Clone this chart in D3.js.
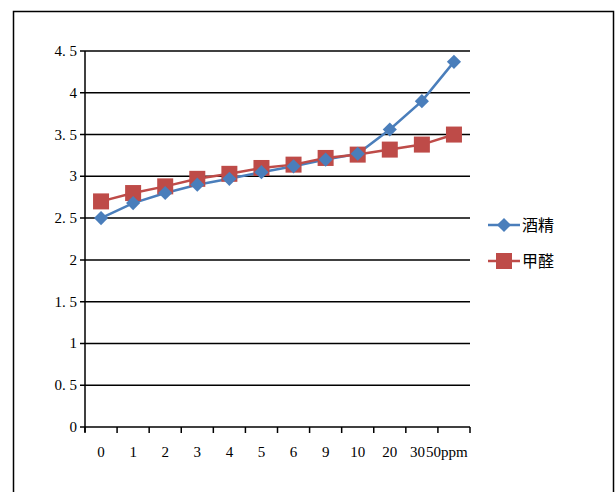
<!DOCTYPE html>
<html><head><meta charset="utf-8">
<script src="https://cdn.jsdelivr.net/npm/d3@7"></script>
<style>body{margin:0;background:#fff}</style>
</head><body>
<script>
var categories = ["0","1","2","3","4","5","6","9","10","20","30","50ppm"];
var alcohol = [2.5,2.68,2.8,2.9,2.97,3.05,3.12,3.2,3.27,3.56,3.9,4.37];
var formaldehyde = [2.7,2.8,2.88,2.97,3.03,3.1,3.14,3.22,3.26,3.32,3.38,3.5];
var yTicks = [0,0.5,1,1.5,2,2.5,3,3.5,4,4.5];

var svg = d3.select("body").append("svg").attr("width",616).attr("height",492);
svg.append("rect").attr("x",13.5).attr("y",11.5).attr("width",600).attr("height",490)
  .attr("fill","#fff").attr("stroke","#000").attr("stroke-width",1.5);

var x = d3.scaleBand().domain(categories).range([85,470]);
var y = d3.scaleLinear().domain([0,4.5]).range([427,51]);
var font = "Liberation Serif";

yTicks.forEach(function(t){
  svg.append("line").attr("x1",80).attr("x2",470).attr("y1",y(t)).attr("y2",y(t))
    .attr("stroke","#000").attr("stroke-width",1.5);
  svg.append("text").attr("x",77).attr("y",y(t)+5).attr("text-anchor","end")
    .attr("font-family",font).attr("font-size",15).text(String(t).replace(".",". "));
});
svg.append("line").attr("x1",85).attr("x2",85).attr("y1",51).attr("y2",432).attr("stroke","#000").attr("stroke-width",1.5);
var edges = categories.map(function(c){return x(c);}).concat([470]);
edges.forEach(function(e){
  svg.append("line").attr("x1",e).attr("x2",e).attr("y1",427).attr("y2",433).attr("stroke","#000").attr("stroke-width",1.5);
});
categories.forEach(function(c,i){
  var cx = x(c)+x.bandwidth()/2;
  var t = svg.append("text").attr("y",457).attr("font-family",font).attr("font-size",15).text(c);
  if (i==10) t.attr("x",cx+3).attr("text-anchor","end");
  else if (i==11) t.attr("x",cx-28).attr("text-anchor","start");
  else t.attr("x",cx).attr("text-anchor","middle");
});

var line = d3.line().x(function(d,i){return x(categories[i])+x.bandwidth()/2;}).y(function(d){return y(d);});
svg.append("path").datum(alcohol).attr("d",line).attr("fill","none").attr("stroke","#4a7ebb").attr("stroke-width",2.5);
svg.append("path").datum(formaldehyde).attr("d",line).attr("fill","none").attr("stroke","#be4b48").attr("stroke-width",2.5);
svg.selectAll(".sq").data(formaldehyde).enter().append("rect")
  .attr("x",function(d,i){return x(categories[i])+x.bandwidth()/2-8;}).attr("y",function(d){return y(d)-8;})
  .attr("width",16).attr("height",16).attr("fill","#be4b48");
function dia(g,cx,cy){
  g.append("rect").attr("x",-5).attr("y",-5).attr("width",10).attr("height",10).attr("fill","#4a7ebb")
   .attr("transform","translate("+cx+","+cy+") rotate(45)");
}
alcohol.forEach(function(d,i){ dia(svg, x(categories[i])+x.bandwidth()/2, y(d)); });

// legend
svg.append("line").attr("x1",488).attr("x2",520).attr("y1",225).attr("y2",225).attr("stroke","#4a7ebb").attr("stroke-width",2.5);
dia(svg,504,225);
svg.append("text").attr("x",522).attr("y",231).attr("font-family","Noto Sans CJK SC").attr("font-size",16).text("酒精");
svg.append("line").attr("x1",488).attr("x2",520).attr("y1",261).attr("y2",261).attr("stroke","#be4b48").attr("stroke-width",2.5);
svg.append("rect").attr("x",496).attr("y",253).attr("width",16).attr("height",16).attr("fill","#be4b48");
svg.append("text").attr("x",522).attr("y",267).attr("font-family","Noto Sans CJK SC").attr("font-size",16).text("甲醛");
</script>
</body></html>
